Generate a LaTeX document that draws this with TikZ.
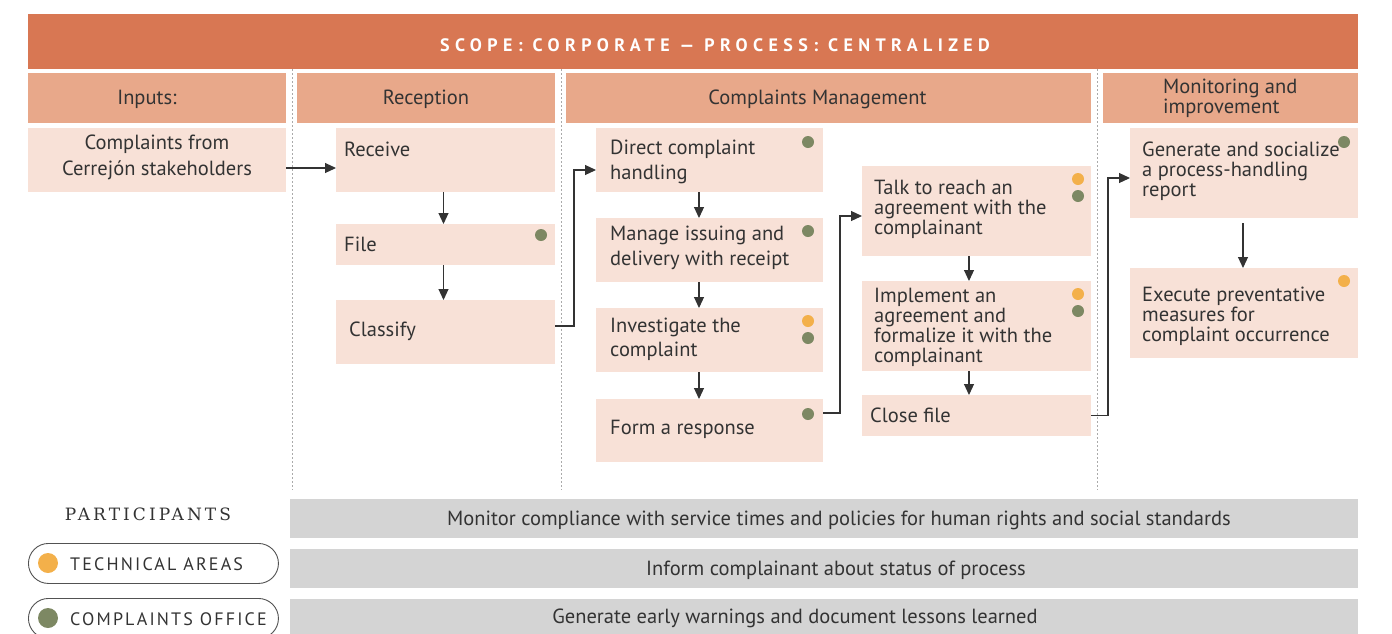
\documentclass[tikz,border=0pt]{standalone}
\usepackage{fontspec}
\setmainfont{PT Sans}
\newfontfamily\bannerfont[LetterSpace=30]{PT Sans}
\newfontfamily\slabfont[LetterSpace=18]{DejaVu Serif}
\newfontfamily\legendfont[LetterSpace=12]{PT Sans}
\usetikzlibrary{arrows.meta}

\definecolor{banner}{HTML}{D87753}
\definecolor{phase}{HTML}{E8A88A}
\definecolor{task}{HTML}{F8E1D7}
\definecolor{bar}{HTML}{D4D4D4}
\definecolor{ink}{HTML}{333333}
\definecolor{dotor}{HTML}{F3B04A}
\definecolor{dotgr}{HTML}{7D8863}
\definecolor{lane}{HTML}{AAAAAA}

% rectangular block given by top-left corner and size
\newcommand{\block}[6]{%
  \node[#1, minimum width=#5, minimum height=#6] (#2) at (#3,#4) {};}

\begin{document}
\begin{tikzpicture}[x=1pt, y=-1pt,
  plain/.style={draw=none, anchor=north west, inner sep=0, outer sep=0},
  bannerbox/.style={plain, fill=banner},
  phasebox/.style={plain, fill=phase},
  taskbox/.style={plain, fill=task},
  barbox/.style={plain, fill=bar},
  lbl/.style={anchor=west, align=left, inner sep=0, text=ink,
              font=\fontsize{20.5}{25}\selectfont},
  lbltight/.style={lbl, font=\fontsize{20.5}{20}\selectfont},
  head/.style={inner sep=0, text=ink, font=\fontsize{20.5}{20}\selectfont},
  arr/.style={draw=ink, line width=1.1pt, -{Triangle[length=11pt,width=10pt]}},
  lanesep/.style={draw=lane, line width=0.8pt, dash pattern=on 2pt off 2pt},
  pill/.style={draw=ink!85, line width=0.9pt, rounded corners=20pt,
               anchor=north west, inner sep=0, minimum width=250, minimum height=40},
]
\useasboundingbox (0,0) rectangle (1392,633);

% title banner
\block{bannerbox}{scope}{28}{14}{1330}{55}
\node[text=white, font=\bannerfont\bfseries\fontsize{18}{20}\selectfont] (scopetext)
  at ([xshift=22pt,yshift=-3.5pt]scope.center) {SCOPE: CORPORATE — PROCESS: CENTRALIZED};

% swimlane separators
\foreach \lx in {292,561,1097} \draw[lanesep] (\lx,69) -- (\lx,490);

% phase headers
\block{phasebox}{hinputs}{28}{73}{258}{50}
\block{phasebox}{hreception}{297}{73}{258}{50}
\block{phasebox}{hmanage}{566}{73}{525}{50}
\block{phasebox}{hmonitor}{1103}{73}{255}{50}
\node[head] (thinputs) at ([xshift=-10pt,yshift=-1pt]hinputs.center) {Inputs:};
\node[head] (threception) at ([yshift=-1pt]hreception.center) {Reception};
\node[head] (thmanage) at ([xshift=-11pt,yshift=-1pt]hmanage.center) {Complaints Management};
\node[head, anchor=west, align=left] (thmonitor) at (1163,98) {Monitoring and\\improvement};

% process steps
\block{taskbox}{inputs}{28}{128}{258}{64}
\block{taskbox}{receive}{336}{128}{219}{64}
\block{taskbox}{file}{336}{224}{219}{41}
\block{taskbox}{classify}{336}{300}{219}{64}
\block{taskbox}{direct}{596}{128}{227}{64}
\block{taskbox}{issue}{596}{218}{227}{64}
\block{taskbox}{investigate}{596}{308}{227}{64}
\block{taskbox}{respond}{596}{399}{227}{63}
\block{taskbox}{talk}{862}{166}{229}{90}
\block{taskbox}{implement}{862}{281}{229}{90}
\block{taskbox}{close}{862}{395}{229}{41}
\block{taskbox}{report}{1130}{128}{228}{90}
\block{taskbox}{prevent}{1130}{268}{228}{90}

\node[lbl, anchor=center, align=center, font=\fontsize{20.5}{26}\selectfont] (tinputs)
  at (157,157.5) {Complaints from\\Cerrejón stakeholders};
\node[lbl] (treceive) at (344,149.5) {Receive};
\node[lbl] (tfile) at (344,244.5) {File};
\node[lbl] (tclassify) at (349,331.5) {Classify};
\node[lbl] (tdirect) at (610,162) {Direct complaint\\handling};
\node[lbl] (tissue) at (610,248) {Manage issuing and\\delivery with receipt};
\node[lbl, font=\fontsize{20.5}{24}\selectfont] (tinvestigate) at (610,339.5) {Investigate the\\complaint};
\node[lbl] (trespond) at (610,429.5) {Form a response};
\node[lbltight] (ttalk) at (874,209.5) {Talk to reach an\\agreement with the\\complainant};
\node[lbltight] (timplement) at (874,327.5) {Implement an\\agreement and\\formalize it with the\\complainant};
\node[lbl] (tclose) at (870,415.5) {Close file};
\node[lbltight] (treport) at (1142,171.5) {Generate and socialize\\a process-handling\\report};
\node[lbltight] (tprevent) at (1142,316.5) {Execute preventative\\measures for\\complaint occurrence};

% participant markers
\fill[dotgr] (541,235) circle[radius=6pt];
\fill[dotgr] (808,142) circle[radius=6pt];
\fill[dotgr] (808,231) circle[radius=6pt];
\fill[dotor] (808,321) circle[radius=6pt];
\fill[dotgr] (808,338) circle[radius=6pt];
\fill[dotgr] (808,414) circle[radius=6pt];
\fill[dotor] (1078,179) circle[radius=6pt];
\fill[dotgr] (1078,196) circle[radius=6pt];
\fill[dotor] (1078,294) circle[radius=6pt];
\fill[dotgr] (1078,311) circle[radius=6pt];
\fill[dotgr] (1344,142) circle[radius=6pt];
\fill[dotor] (1344,281) circle[radius=6pt];

% flow
\draw[arr] ([yshift=-8pt]inputs.east) -- ([yshift=-8pt]receive.west);
\draw[arr] ([xshift=-2pt]receive.south) -- ([xshift=-2pt]file.north);
\draw[arr] ([xshift=-2pt]file.south) -- ([xshift=-2pt]classify.north);
\draw[arr] ([yshift=6pt]classify.east) -- ++(19,0) |- ([yshift=-10pt]direct.west);
\draw[arr] ([xshift=-10.5pt]direct.south) -- ([xshift=-10.5pt]issue.north);
\draw[arr] ([xshift=-10.5pt]issue.south) -- ([xshift=-10.5pt]investigate.north);
\draw[arr] ([xshift=-10.5pt]investigate.south) -- ([xshift=-10.5pt]respond.north);
\draw[arr] ([yshift=17.5pt]respond.east) -- ++(17,0) |- ([yshift=-5pt]talk.west);
\draw[arr] ([xshift=-7.5pt]talk.south) -- ([xshift=-7.5pt]implement.north);
\draw[arr] ([xshift=-7.5pt]implement.south) -- ([xshift=-7.5pt]close.north);
\draw[arr] (close.east) -- ++(17,0) |- ([yshift=-5pt]report.west);
\draw[arr, shorten <=5pt] ([xshift=-1pt]report.south) -- ([xshift=-1pt]prevent.north);

% cross-cutting activities
\block{barbox}{monitor}{290}{499}{1068}{39}
\block{barbox}{inform}{290}{549}{1068}{39}
\block{barbox}{warn}{290}{599}{1068}{39}
\node[head] (tmonitor) at (839,520) {Monitor compliance with service times and policies for human rights and social standards};
\node[head] (tinform) at (836,570.5) {Inform complainant about status of process};
\node[head] (twarn) at (795,618.5) {Generate early warnings and document lessons learned};

% legend
\node[text=ink, inner sep=0, font=\slabfont\fontsize{17}{18}\selectfont] (participants) at (148,514) {PARTICIPANTS};
\node[pill] (techpill) at (28,543) {};
\node[pill] (officepill) at (28,598) {};
\fill[dotor] (48,563) circle[radius=10pt];
\fill[dotgr] (48,618) circle[radius=10pt];
\node[anchor=west, inner sep=0, text=ink, font=\legendfont\fontsize{18}{18}\selectfont] (techtext) at (70,564) {TECHNICAL AREAS};
\node[anchor=west, inner sep=0, text=ink, font=\legendfont\fontsize{18}{18}\selectfont] (officetext) at (70,619) {COMPLAINTS OFFICE};
\end{tikzpicture}
\end{document}
